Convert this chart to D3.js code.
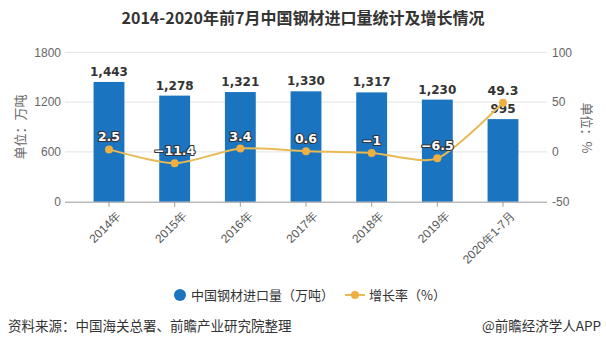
<!DOCTYPE html>
<html><head><meta charset="utf-8">
<script src="https://cdn.jsdelivr.net/npm/d3@7"></script>
<style>
html,body{margin:0;padding:0;background:#fff;}
svg{display:block;font-family:"Microsoft YaHei","Noto Sans CJK SC",sans-serif;}
</style></head>
<body>
<svg id="c" width="606" height="346"></svg>
<script>
const categories = ["2014年","2015年","2016年","2017年","2018年","2019年","2020年1-7月"];
const imports = [1443,1278,1321,1330,1317,1230,995];
const growth = [2.5,-11.4,3.4,0.6,-1,-6.5,49.3];
const growthLabels = ["2.5","−11.4","3.4","0.6","−1","−6.5","49.3"];
const leftTicks = [0,600,1200,1800];
const rightTicks = [-50,0,50,100];

const svg = d3.select("#c");
const L = 65, R = 547, T = 52.3, B = 201.7;
const x = d3.scaleBand().domain(categories).range([L,R]).paddingInner(0.53).paddingOuter(0.435);
const yL = d3.scaleLinear().domain([0,1800]).range([B,T]);
const yR = d3.scaleLinear().domain([-50,100]).range([B,T]);

svg.append("text").attr("x",303).attr("y",24).attr("text-anchor","middle")
  .attr("font-size",16).attr("font-weight","bold").attr("fill","#333")
  .text("2014-2020年前7月中国钢材进口量统计及增长情况");

// grid
svg.append("g").selectAll("line").data(leftTicks.filter(d=>d>0)).join("line")
  .attr("x1",L).attr("x2",R).attr("y1",d=>yL(d)).attr("y2",d=>yL(d))
  .attr("stroke","#e3e3e3").attr("stroke-width",1);

// left axis labels
const gl = svg.append("g").attr("transform",`translate(${L},0)`)
  .call(d3.axisLeft(yL).tickValues(leftTicks).tickFormat(d=>String(d)).tickSize(0).tickPadding(4));
gl.select(".domain").remove();
gl.selectAll("text").attr("font-size",12).attr("fill","#666").attr("font-family","Arial,'Liberation Sans',sans-serif");

const gr = svg.append("g").attr("transform",`translate(${R},0)`)
  .call(d3.axisRight(yR).tickValues(rightTicks).tickFormat(d=>String(d)).tickSize(0).tickPadding(5));
gr.select(".domain").remove();
gr.selectAll("text").attr("font-size",12).attr("fill","#666").attr("font-family","Arial,'Liberation Sans',sans-serif");

// bars
svg.append("g").selectAll("rect").data(imports).join("rect")
  .attr("x",(d,i)=>x(categories[i])).attr("width",x.bandwidth())
  .attr("y",d=>yL(d)).attr("height",d=>B-yL(d)).attr("fill","#1a74c0");

// x axis
const gx = svg.append("g").attr("transform",`translate(0,${B})`)
  .call(d3.axisBottom(x).tickSize(5).tickSizeOuter(0));
gx.select(".domain").attr("stroke","#999").attr("d",`M${L},0.5H${R}`);
gx.selectAll(".tick line").attr("stroke","#999");
gx.selectAll("text").attr("font-size",12).attr("fill","#555")
  .attr("text-anchor","end").attr("transform","translate(2,4) rotate(-45)").attr("dy","0.6em").attr("dx","0");

// bar labels
svg.append("g").selectAll("text").data(imports).join("text")
  .attr("x",(d,i)=>x(categories[i])+x.bandwidth()/2).attr("y",d=>yL(d)-6)
  .attr("text-anchor","middle").attr("font-size",12).attr("font-weight","bold").attr("fill","#333")
  .attr("font-family","Verdana,'DejaVu Sans',sans-serif")
  .text(d=>d3.format(",")(d));

// line
const cx = (i)=>x(categories[i])+x.bandwidth()/2;
const line = d3.line().x((d,i)=>cx(i)).y(d=>yR(d)).curve(d3.curveCardinal.tension(0.3));
svg.append("path").datum(growth).attr("d",line).attr("fill","none")
  .attr("stroke","#e7ba55").attr("stroke-width",2);
svg.append("g").selectAll("circle").data(growth).join("circle")
  .attr("cx",(d,i)=>cx(i)).attr("cy",d=>yR(d)).attr("r",4).attr("fill","#eeb043");
svg.append("g").selectAll("text").data(growth).join("text")
  .attr("x",(d,i)=>cx(i)).attr("y",d=>yR(d)-8)
  .attr("text-anchor","middle").attr("font-size",12.5).attr("font-weight","bold")
  .attr("font-family","Verdana,'DejaVu Sans',sans-serif")
  .attr("fill",(d,i)=>i===6?"#333":"#fff").attr("stroke",(d,i)=>i===6?"#fff":"#333").attr("stroke-width",(d,i)=>i===6?2:2.2)
  .attr("paint-order","stroke").attr("stroke-linejoin","round")
  .text((d,i)=>growthLabels[i]);

// axis titles
svg.append("text").attr("transform","translate(25,127) rotate(-90)").attr("text-anchor","middle")
  .attr("font-size",13).attr("fill","#666").text("单位：万吨");
svg.append("text").attr("transform","translate(582,128) rotate(90)").attr("text-anchor","middle")
  .attr("font-size",13).attr("fill","#666").text("单位：%");

// legend
const lg = svg.append("g");
lg.append("circle").attr("cx",180).attr("cy",295).attr("r",6).attr("fill","#1a74c0");
lg.append("text").attr("x",191).attr("y",300).attr("font-size",13).attr("fill","#333").text("中国钢材进口量（万吨）");
lg.append("line").attr("x1",345).attr("x2",365).attr("y1",295).attr("y2",295).attr("stroke","#e7ba55").attr("stroke-width",2);
lg.append("circle").attr("cx",355).attr("cy",295).attr("r",4).attr("fill","#eeb043");
lg.append("text").attr("x",369).attr("y",300).attr("font-size",13).attr("fill","#333").text("增长率（%）");

// footer
svg.append("text").attr("x",8).attr("y",331).attr("font-size",13.5).attr("fill","#333").text("资料来源：中国海关总署、前瞻产业研究院整理");
svg.append("text").attr("x",601).attr("y",331).attr("text-anchor","end").attr("font-size",13.5).attr("fill","#333").text("@前瞻经济学人APP");
</script>
</body></html>
